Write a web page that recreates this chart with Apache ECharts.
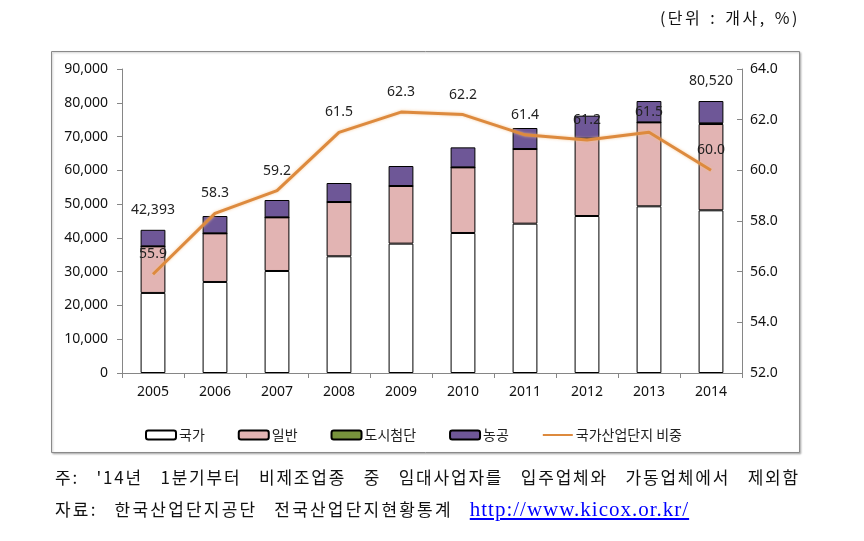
<!DOCTYPE html>
<html>
<head>
<meta charset="utf-8">
<script src="https://cdn.jsdelivr.net/npm/echarts@6/dist/echarts.min.js"></script>
<style>
  html, body { margin: 0; padding: 0; background: #fff; }
  #wrap { position: relative; width: 864px; height: 541px; overflow: hidden; }
  #chart { position: absolute; left: 0; top: 0; width: 864px; height: 541px; }
  .note { position: absolute; font-family: "Noto Sans CJK KR", sans-serif; color: #111; white-space: nowrap; }
  #unit { right: 64px; top: 5px; font-size: 16px; letter-spacing: 2.5px; word-spacing: 2px; }
  #note1 { left: 55px; top: 464px; width: 745px; font-size: 17px; text-align: justify; text-align-last: justify; letter-spacing: 1.8px; }
  #note2 { left: 55px; top: 496px; font-size: 17px; letter-spacing: 2.2px; word-spacing: 11px; }
  #note2 a { font-family: "Liberation Serif", serif; font-size: 21px; color: #0000ff; text-decoration: underline; letter-spacing: 1px; word-spacing: 0; }
</style>
</head>
<body>
<div id="wrap">
  <div id="chart"></div>
  <div class="note" id="unit">(단위 : 개사, %)</div>
  <div class="note" id="note1">주: '14년 1분기부터 비제조업종 중 임대사업자를 입주업체와 가동업체에서 제외함</div>
  <div class="note" id="note2">자료: 한국산업단지공단 전국산업단지현황통계 <a>http://www.kicox.or.kr/</a></div>
</div>
<script>
const categories = ['2005','2006','2007','2008','2009','2010','2011','2012','2013','2014'];
const national = [23700, 26950, 30200, 34550, 38300, 41450, 44210, 46480, 49340, 48160];
const general  = [13800, 14400, 15880, 16070, 17060, 19430, 22100, 22920, 24860, 25550];
const urban    = [0, 0, 0, 0, 0, 0, 0, 0, 0, 200];
const agri     = [4893, 5130, 5140, 5630, 5920, 5920, 6220, 6780, 6320, 6610];
const share    = [55.9, 58.3, 59.2, 61.5, 62.3, 62.2, 61.4, 61.2, 61.5, 60.0];
const totalLabelYears = ['2005', '2014'];
const leftTicks = { min: 0, max: 90000, interval: 10000 };
const rightTicks = { min: 52, max: 64, interval: 2 };

const totals = categories.map((c, i) => national[i] + general[i] + urban[i] + agri[i]);

const chart = echarts.init(document.getElementById('chart'), null, { renderer: 'canvas' });
const axisFont = { fontFamily: 'Noto Sans', fontSize: 14, color: '#111' };
const barBorder = { borderColor: '#000', borderWidth: 1 };

chart.setOption({
  animation: false,
  textStyle: { fontFamily: 'Noto Sans' },
  graphic: [{
    type: 'rect', z: -10,
    shape: { x: 51.5, y: 51.5, width: 748, height: 401 },
    style: { fill: '#fff', stroke: '#8a8a8a', lineWidth: 1, shadowColor: 'rgba(0,0,0,0.25)', shadowBlur: 2, shadowOffsetX: 1, shadowOffsetY: 1 }
  }],
  grid: { left: 122, right: 122, top: 69, bottom: 168 },
  legend: {
    left: 140, top: 423,
    itemWidth: 30, itemHeight: 9, itemGap: 33,
    textStyle: { fontFamily: 'Noto Sans CJK KR', fontSize: 14, color: '#222', padding: [0, 0, 0, -2] },
    data: ['국가', '일반', '도시첨단', '농공', '국가산업단지 비중']
  },
  xAxis: {
    type: 'category', data: categories,
    axisLine: { lineStyle: { color: '#868686' } },
    axisTick: { show: true, length: 5, lineStyle: { color: '#868686' } },
    axisLabel: Object.assign({ margin: 12 }, axisFont)
  },
  yAxis: [{
    type: 'value', min: leftTicks.min, max: leftTicks.max, interval: leftTicks.interval,
    splitLine: { show: false },
    axisLine: { show: true, lineStyle: { color: '#868686' } },
    axisTick: { show: true, length: 5, lineStyle: { color: '#868686' } },
    axisLabel: Object.assign({ margin: 14, formatter: v => v.toLocaleString('en-US') }, axisFont)
  }, {
    type: 'value', min: rightTicks.min, max: rightTicks.max, interval: rightTicks.interval,
    position: 'right',
    splitLine: { show: false },
    axisLine: { show: true, lineStyle: { color: '#868686' } },
    axisTick: { show: true, inside: true, length: 5, lineStyle: { color: '#868686' } },
    axisLabel: Object.assign({ margin: 8, formatter: v => v.toFixed(1) }, axisFont)
  }],
  series: [
    { name: '국가', type: 'bar', stack: 's', barWidth: '40%', data: national,
      itemStyle: Object.assign({ color: '#ffffff' }, barBorder) },
    { name: '일반', type: 'bar', stack: 's', data: general,
      itemStyle: Object.assign({ color: '#E2B4B3' }, barBorder) },
    { name: '도시첨단', type: 'bar', stack: 's', data: urban,
      itemStyle: { color: '#77933C', borderColor: '#000', borderWidth: 1 } },
    { name: '농공', type: 'bar', stack: 's', data: agri,
      itemStyle: Object.assign({ color: '#6E5797' }, barBorder),
      label: { show: true, position: 'top', distance: 13, fontFamily: 'Noto Sans', fontSize: 14, color: '#222',
        formatter: p => totalLabelYears.indexOf(p.name) >= 0 ? totals[p.dataIndex].toLocaleString('en-US') : '' } },
    { name: '국가산업단지 비중', type: 'line', yAxisIndex: 1, data: share, z: 5,
      symbol: 'circle', symbolSize: 2, showSymbol: true, smooth: false,
      lineStyle: { color: '#DD8A3E', width: 3, shadowColor: 'rgba(245,190,130,0.8)', shadowBlur: 3 },
      itemStyle: { color: 'rgba(0,0,0,0)', borderWidth: 0 },
      label: { show: true, position: 'top', distance: 12, fontFamily: 'Noto Sans', fontSize: 14, color: '#222',
        formatter: p => p.value.toFixed(1) } }
  ]
});
</script>
</body>
</html>
